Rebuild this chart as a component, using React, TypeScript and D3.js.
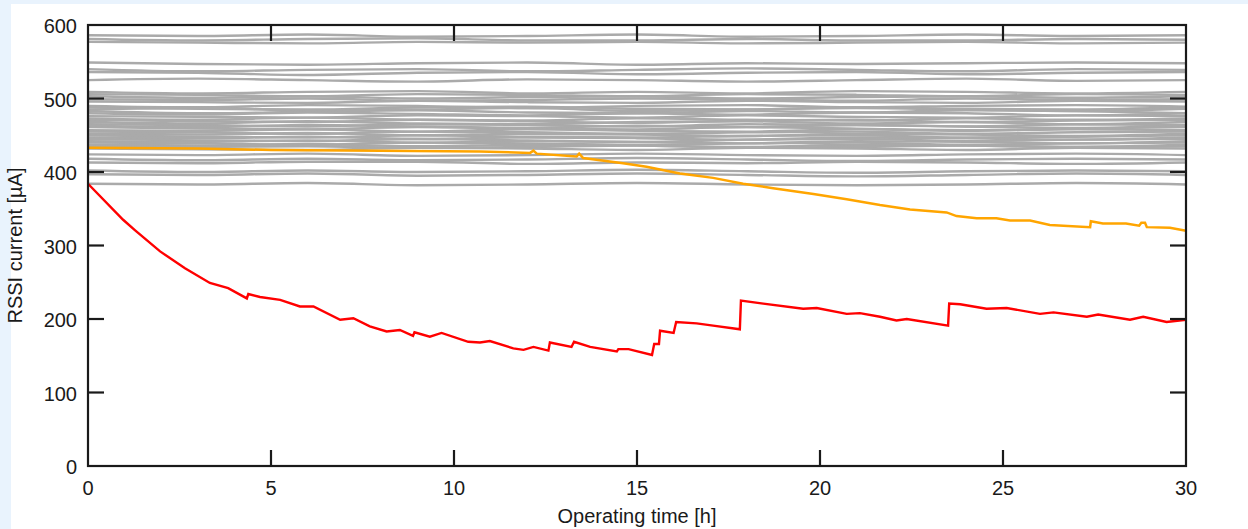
import React from 'react';
import * as d3 from 'd3';

// gray reference cells, sampled every 3 h
const grayTimes = [0, 3, 6, 9, 12, 15, 18, 21, 24, 27, 30];
const grayRuns = [
  [586, 585, 587, 584, 585, 587, 584, 585, 587, 585, 586],
  [581, 579, 581, 582, 579, 579, 581, 579, 579, 581, 580],
  [577, 576, 575, 577, 576, 577, 575, 576, 577, 575, 576],
  [549, 547, 546, 548, 549, 546, 548, 547, 548, 549, 548],
  [540, 537, 539, 540, 537, 539, 541, 539, 537, 540, 539],
  [536, 535, 532, 535, 536, 533, 535, 536, 533, 535, 536],
  [525, 527, 525, 523, 526, 525, 523, 525, 527, 524, 525],
  [509, 507, 509, 510, 507, 509, 507, 510, 509, 507, 509],
  [506, 505, 503, 506, 505, 503, 506, 505, 503, 506, 505],
  [503, 501, 503, 500, 502, 503, 500, 502, 503, 501, 503],
  [499, 498, 500, 497, 498, 500, 499, 497, 500, 498, 499],
  [496, 495, 494, 497, 495, 494, 497, 495, 494, 497, 496],
  [490, 488, 491, 490, 487, 490, 491, 488, 490, 491, 489],
  [488, 486, 485, 488, 489, 486, 485, 488, 486, 485, 488],
  [485, 487, 484, 485, 487, 483, 485, 487, 485, 483, 486],
  [483, 480, 482, 484, 481, 480, 483, 481, 484, 483, 480],
  [480, 478, 481, 479, 477, 480, 478, 481, 480, 477, 480],
  [476, 475, 474, 477, 476, 474, 477, 475, 474, 477, 476],
  [473, 471, 474, 471, 470, 473, 471, 470, 473, 471, 473],
  [471, 469, 468, 471, 469, 467, 470, 471, 468, 470, 471],
  [468, 466, 469, 466, 465, 468, 469, 466, 468, 465, 468],
  [465, 464, 462, 465, 464, 462, 465, 464, 462, 465, 464],
  [463, 461, 464, 462, 460, 463, 461, 464, 462, 460, 463],
  [461, 459, 458, 461, 459, 458, 461, 459, 457, 459, 461],
  [457, 456, 458, 455, 458, 456, 455, 458, 456, 458, 457],
  [455, 454, 452, 455, 454, 452, 454, 455, 452, 454, 455],
  [452, 451, 453, 450, 452, 451, 449, 452, 451, 449, 452],
  [450, 448, 447, 450, 448, 447, 449, 450, 447, 448, 450],
  [447, 446, 448, 445, 447, 446, 444, 447, 446, 444, 447],
  [445, 443, 442, 445, 443, 441, 444, 445, 442, 444, 445],
  [442, 441, 443, 440, 442, 441, 439, 442, 441, 439, 442],
  [440, 439, 437, 440, 439, 437, 439, 440, 437, 439, 440],
  [437, 436, 438, 435, 437, 436, 434, 437, 436, 434, 437],
  [435, 434, 435, 433, 434, 436, 433, 434, 436, 434, 435],
  [432, 431, 430, 433, 432, 430, 433, 432, 430, 433, 432],
  [424, 423, 425, 422, 423, 425, 423, 422, 424, 425, 423],
  [418, 416, 418, 416, 417, 419, 417, 415, 417, 418, 417],
  [413, 412, 414, 414, 411, 413, 412, 414, 413, 411, 413],
  [402, 400, 402, 400, 401, 403, 401, 399, 401, 402, 401],
  [397, 396, 398, 395, 396, 398, 396, 394, 396, 398, 396],
  [384, 383, 385, 382, 383, 385, 383, 382, 383, 385, 383],
];

// degrading cell (orange)
const orangeTimes = [0, 3, 5, 8, 10.7, 12.08, 12.17, 12.26, 13.35, 13.42, 13.53, 14.62, 15.26, 16.17, 17.08, 17.9, 18.72, 19.82, 20.73, 21.64, 22.46, 23.46, 23.73, 24.28, 24.82, 25.19, 25.74, 26.28, 27.38, 27.4, 27.73, 28.36, 28.72, 28.78, 28.88, 28.93, 29.56, 30];
const orangeValues = [433, 432, 430, 429, 428, 426, 429, 425, 421, 425, 419, 412, 407, 398, 392, 384, 378, 370, 363, 355, 349, 345, 340, 337, 337, 334, 334, 328, 325, 333, 330, 330, 327, 331, 331, 325, 324, 320];

// failing cell (red)
const redTimes = [0, 0.96, 1.28, 1.97, 2.65, 3.33, 3.83, 4.34, 4.38, 4.7, 5.25, 5.79, 6.16, 6.89, 7.25, 7.7, 8.16, 8.52, 8.88, 8.92, 9.34, 9.66, 10.39, 10.71, 10.98, 11.62, 11.9, 12.17, 12.58, 12.62, 13.21, 13.28, 13.72, 14.45, 14.49, 14.77, 15.41, 15.47, 15.6, 15.63, 16.0, 16.07, 16.63, 17.08, 17.81, 17.84, 18.45, 19.54, 19.91, 20.73, 21.09, 21.64, 22.09, 22.37, 23.5, 23.53, 23.83, 24.55, 25.1, 26.01, 26.38, 27.29, 27.6, 28.47, 28.83, 29.47, 30];
const redValues = [384, 335, 321, 292, 269, 249, 242, 228, 234, 230, 226, 217, 217, 199, 201, 190, 183, 185, 177, 182, 176, 181, 169, 168, 170, 160, 158, 162, 157, 168, 162, 169, 162, 156, 159, 159, 151, 166, 166, 184, 181, 196, 194, 191, 186, 225, 221, 214, 215, 207, 208, 203, 198, 200, 191, 221, 220, 214, 215, 207, 209, 203, 206, 199, 203, 196, 199];

const xTicks = [0, 5, 10, 15, 20, 25, 30];
const yTicks = [0, 100, 200, 300, 400, 500, 600];

const W = 1248;
const H = 529;
const margin = { top: 25, right: 62, bottom: 63, left: 88 };
const font = '"Liberation Sans", Arial, sans-serif';
const ink = '#1a1a1a';

export default function App() {
  const innerW = W - margin.left - margin.right;
  const innerH = H - margin.top - margin.bottom;

  const x = d3.scaleLinear().domain([0, 30]).range([0, innerW]);
  const y = d3.scaleLinear().domain([0, 600]).range([innerH, 0]);

  const line = d3.line<[number, number]>()
    .x(d => x(d[0]))
    .y(d => y(d[1]));
  const wavy = d3.line<[number, number]>()
    .x(d => x(d[0]))
    .y(d => y(d[1]))
    .curve(d3.curveMonotoneX);

  const orange = orangeTimes.map((t, i) => [t, orangeValues[i]] as [number, number]);
  const red = redTimes.map((t, i) => [t, redValues[i]] as [number, number]);

  const tickLen = 16;

  return (
    <div style={{ position: 'fixed', left: 0, top: 0, width: W, height: H }}>
      <svg width={W} height={H} style={{ display: 'block' }}>
        <rect x={0} y={0} width={W} height={H} fill="#e9f3fd" />
        <rect x={11} y={4} width={W - 11} height={H - 4} fill="#ffffff" />
        <g transform={`translate(${margin.left},${margin.top})`}>
          <g fill="none" stroke="#aaaaaa" strokeWidth={2.4}>
            {grayRuns.map((run, k) => (
              <path key={k} d={wavy(run.map((v, i) => [grayTimes[i], v] as [number, number])) || ''} />
            ))}
          </g>
          <path d={line(orange) || ''} fill="none" stroke="#ffa500" strokeWidth={2.5} />
          <path d={line(red) || ''} fill="none" stroke="#ff0000" strokeWidth={2.4} />

          <rect x={0} y={0} width={innerW} height={innerH} fill="none" stroke={ink} strokeWidth={2.2} />

          <g stroke={ink} strokeWidth={2.2}>
            {xTicks.slice(1, -1).map(t => (
              <g key={t}>
                <line x1={x(t)} x2={x(t)} y1={innerH} y2={innerH - tickLen} />
                <line x1={x(t)} x2={x(t)} y1={0} y2={tickLen} />
              </g>
            ))}
            {yTicks.slice(1, -1).map(t => (
              <g key={t}>
                <line x1={0} x2={tickLen} y1={y(t)} y2={y(t)} />
                <line x1={innerW} x2={innerW - tickLen} y1={y(t)} y2={y(t)} />
              </g>
            ))}
          </g>

          <g fontFamily={font} fontSize={20} fill={ink}>
            {xTicks.map(t => (
              <text key={t} x={x(t)} y={innerH + 29} textAnchor="middle">{t}</text>
            ))}
            {yTicks.map(t => (
              <text key={t} x={-11} y={y(t)} dy="0.4em" textAnchor="end">{t}</text>
            ))}
          </g>

          <text x={innerW / 2} y={innerH + 57} textAnchor="middle" fontFamily={font} fontSize={20} fill={ink}>
            Operating time [h]
          </text>
          <text
            transform={`translate(${-66},${innerH / 2}) rotate(-90)`}
            textAnchor="middle"
            fontFamily={font}
            fontSize={20}
            fill={ink}
          >
            RSSI current [µA]
          </text>
        </g>
      </svg>
    </div>
  );
}
